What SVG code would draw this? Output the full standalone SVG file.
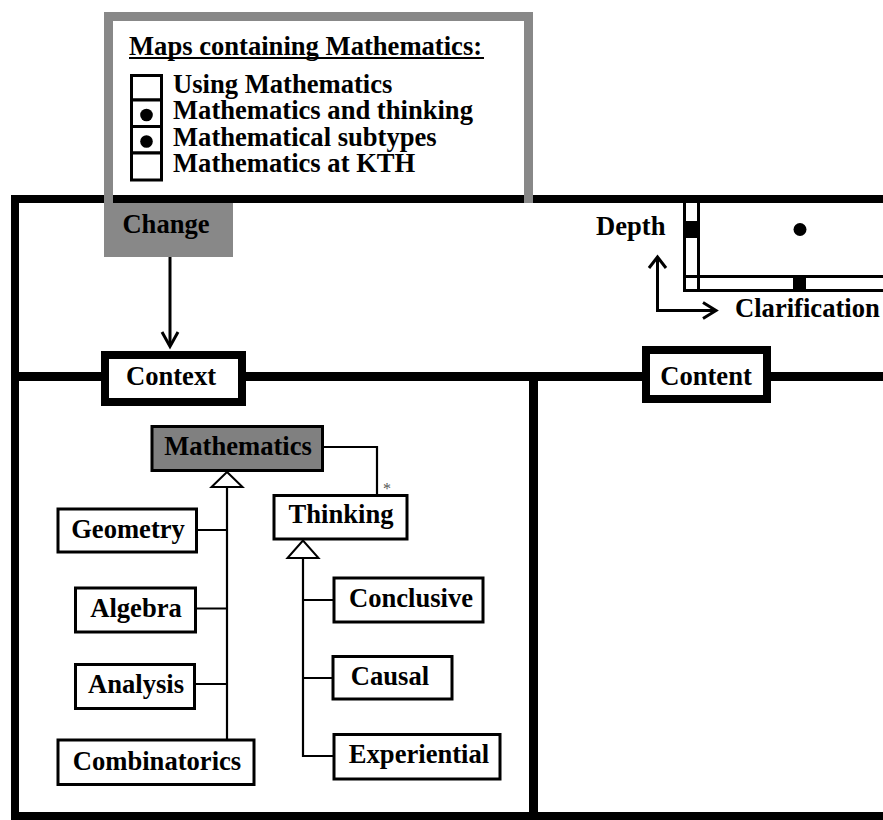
<svg xmlns="http://www.w3.org/2000/svg" width="883" height="820" viewBox="0 0 883 820">
  <style>
    text { font-family: "Liberation Serif", "Times New Roman", serif; font-weight: bold; font-size: 26.6px; fill: #000; }
    .mid { text-anchor: middle; }
    .box { fill: #fff; stroke: #000; stroke-width: 3; }
    .thick { fill: #fff; stroke: #000; stroke-width: 8; }
    .wire { fill: none; stroke: #000; stroke-width: 2.2; }
    .arrow { fill: none; stroke: #000; stroke-width: 3; }
    .gen { fill: #fff; stroke: #000; stroke-width: 2; }
    .frame { fill: #000; }
    .grey { fill: #888888; }
  </style>

  <rect width="883" height="820" fill="#fff"/>

  <!-- outer frame and section dividers -->
  <g id="frame">
    <rect class="frame" x="11" y="195" width="872" height="8"/>
    <rect class="frame" x="11" y="195" width="8" height="625"/>
    <rect class="frame" x="11" y="812" width="872" height="8"/>
    <rect class="frame" x="11" y="372" width="872" height="9"/>
    <rect class="frame" x="529" y="372" width="9" height="448"/>
  </g>

  <!-- legend of maps -->
  <g id="legend">
    <rect x="113" y="21" width="411" height="174" fill="#fff"/>
    <rect class="grey" x="104" y="12" width="429" height="9"/>
    <rect class="grey" x="104" y="12" width="9" height="191"/>
    <rect class="grey" x="524" y="12" width="9" height="191"/>
    <text x="129" y="55">Maps containing Mathematics:</text>
    <rect x="129" y="57" width="355" height="2" fill="#000"/>
    <rect class="box" x="131.5" y="75.5" width="30" height="24.5"/>
    <rect class="box" x="131.5" y="100" width="30" height="26.5"/>
    <rect class="box" x="131.5" y="126.5" width="30" height="26.5"/>
    <rect class="box" x="131.5" y="153" width="30" height="27"/>
    <circle cx="146.5" cy="115" r="6.3" fill="#000"/>
    <circle cx="146.5" cy="141.5" r="6.3" fill="#000"/>
    <text x="173" y="93">Using Mathematics</text>
    <text x="173" y="119">Mathematics and thinking</text>
    <text x="173" y="146">Mathematical subtypes</text>
    <text x="173" y="172">Mathematics at KTH</text>
  </g>

  <g id="change">
    <rect class="grey" x="104" y="203" width="129" height="54"/>
    <text class="mid" x="166" y="233">Change</text>
  </g>

  <g id="context">
    <rect class="thick" x="105" y="355" width="137" height="47"/>
    <text class="mid" x="171" y="385">Context</text>
  </g>

  <g id="content">
    <rect class="thick" x="646" y="350" width="121" height="49"/>
    <text class="mid" x="706" y="385">Content</text>
  </g>

  <!-- depth / clarification gauge -->
  <g id="gauge">
    <line x1="684.5" y1="203" x2="684.5" y2="292" stroke="#000" stroke-width="3"/>
    <line x1="698.5" y1="203" x2="698.5" y2="292" stroke="#000" stroke-width="3"/>
    <line x1="683" y1="276.5" x2="883" y2="276.5" stroke="#000" stroke-width="3"/>
    <line x1="683" y1="290.5" x2="883" y2="290.5" stroke="#000" stroke-width="3"/>
    <rect x="683" y="221" width="17" height="17" fill="#000"/>
    <rect x="793" y="275" width="13" height="17" fill="#000"/>
    <circle cx="800" cy="229.5" r="6.5" fill="#000"/>
    <text x="596" y="235">Depth</text>
    <text x="735" y="317">Clarification</text>
    <path class="arrow" d="M657.5,257 V310.5 H716"/>
    <path class="arrow" d="M649,268 L657.5,257 L666,268"/>
    <path class="arrow" d="M703,302.5 L716,310.5 L703,318.5"/>
  </g>

  <!-- nodes of the concept tree -->
  <g id="mathematics">
    <rect x="152" y="426.5" width="170.5" height="44" fill="#808080" stroke="#000" stroke-width="3"/>
    <text class="mid" x="238" y="455">Mathematics</text>
  </g>
  <g id="thinking">
    <rect class="box" x="274" y="495.5" width="133" height="43.5"/>
    <text class="mid" x="341" y="523">Thinking</text>
  </g>
  <g id="geometry">
    <rect class="box" x="58" y="509" width="138.5" height="43"/>
    <text class="mid" x="128" y="538">Geometry</text>
  </g>
  <g id="algebra">
    <rect class="box" x="75.5" y="588" width="120" height="44"/>
    <text class="mid" x="136" y="617">Algebra</text>
  </g>
  <g id="analysis">
    <rect class="box" x="75.5" y="664.5" width="119" height="44"/>
    <text class="mid" x="136" y="693">Analysis</text>
  </g>
  <g id="combinatorics">
    <rect class="box" x="58" y="740" width="196" height="44.5"/>
    <text class="mid" x="157" y="770">Combinatorics</text>
  </g>
  <g id="conclusive">
    <rect class="box" x="334" y="578" width="149" height="44"/>
    <text class="mid" x="411" y="607">Conclusive</text>
  </g>
  <g id="causal">
    <rect class="box" x="333" y="656.5" width="119" height="42.5"/>
    <text class="mid" x="390" y="685">Causal</text>
  </g>
  <g id="experiential">
    <rect class="box" x="334" y="734.5" width="166" height="44.5"/>
    <text class="mid" x="419" y="763">Experiential</text>
  </g>

  <!-- connectors -->
  <g id="connectors">
    <path class="arrow" d="M170,257 V346"/>
    <path class="arrow" d="M162,332 L170,346.5 L178,332"/>

    <path class="wire" d="M322.5,447 H377 V495.5"/>
    <text x="383" y="494" style="font-size:16px;font-weight:normal;fill:#555">*</text>

    <path class="wire" d="M227,487 V740"/>
    <path class="wire" d="M196.5,530 H227 M195.5,608.5 H227 M194.5,684 H227"/>
    <polygon class="gen" points="227,472 211.5,487 242.5,487"/>

    <path class="wire" d="M303,558 V756 H334"/>
    <path class="wire" d="M303,600 H334 M303,678 H333"/>
    <polygon class="gen" points="303,540.5 287.5,558 318.5,558"/>
  </g>
</svg>
